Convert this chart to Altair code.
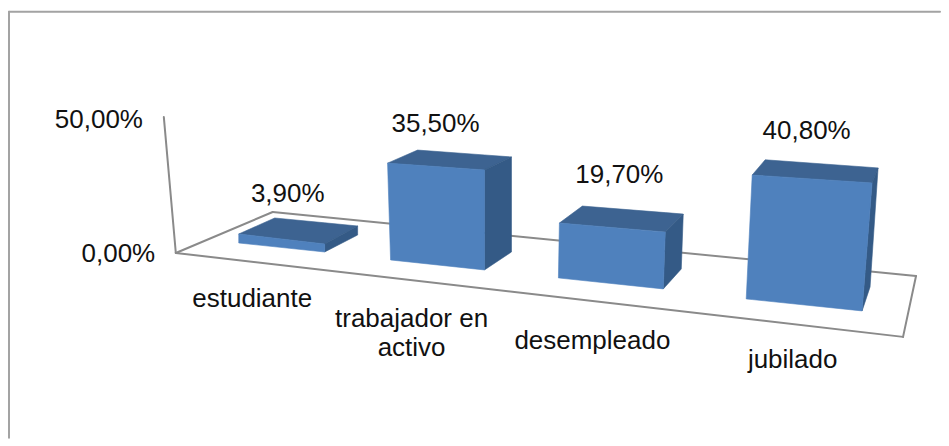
import altair as alt
import pandas as pd

# ---- chart values ----
categories = ["estudiante", "trabajador en\nactivo", "desempleado", "jubilado"]
values = [3.9, 35.5, 19.7, 40.8]
axis_ticks = ["0,00%", "50,00%"]

# ---- layout of the tilted 3D scene, in picture pixels ----
W, H, M = 933, 430, 8
FONT = "Liberation Sans"
FRONT, TOP, SIDE = "#4f81bd", "#3d6391", "#345a86"
GREY = "#8a8a8a"
# floor footprint of each bar: front-left, front-right, back-right, back-left
BASES = [
    [(239, 243), (325, 252), (358, 235), (275, 227)],
    [(391, 260), (485, 270), (512, 252), (420, 243)],
    [(559, 278), (664, 289), (682, 269), (582, 261)],
    [(747, 299), (863, 311), (871, 287), (760, 276)],
]
# how far each corner rises on screen for one percentage point
LIFTS = [
    [(0.00, -2.31), (0.00, -2.05), (0.00, -2.31), (0.00, -2.31)],
    [(-0.085, -2.73), (0.00, -2.82), (0.00, -2.68), (-0.056, -2.62)],
    [(0.05, -2.79), (0.10, -2.89), (0.10, -2.79), (0.05, -2.79)],
    [(0.147, -3.04), (0.245, -3.14), (0.196, -2.92), (0.147, -2.85)],
]
VALUE_POS = [(288, 202), (436, 132), (620, 183), (807.5, 139)]
CAT_POS = [(252.5, 307), (412, 327), (593, 349), (793.5, 368)]
TICK_POS = [(118.5, 262), (99, 128)]
# wall, floor and outer frame segments
FRAME = [(9, 11.5, 941, 11.5), (9, 11.5, 9, 438)]
SCENE = [
    (164, 117, 176, 253),
    (176, 253, 273, 212),
    (273, 212, 917, 276),
    (176, 253, 904, 337),
    (904, 337, 917, 276),
]

xs = alt.Scale(domain=[M, M + W], nice=False, zero=False)
ys = alt.Scale(domain=[M + H, M], nice=False, zero=False)
X = alt.X("x:Q", scale=xs, axis=None)
Y = alt.Y("y:Q", scale=ys, axis=None)


def quad_layer(pts, color):
    """Draw a convex quad as an area mark with x / y / y2 rows."""
    rows = []
    for x in sorted({p[0] for p in pts}):
        hits = []
        for i in range(4):
            (x0, y0), (x1, y1) = pts[i], pts[(i + 1) % 4]
            if x0 == x1:
                if x0 == x:
                    hits += [y0, y1]
            elif min(x0, x1) <= x <= max(x0, x1):
                hits.append(y0 + (y1 - y0) * (x - x0) / (x1 - x0))
        rows.append({"x": x, "y": min(hits), "y2": max(hits)})
    return alt.Chart(pd.DataFrame(rows)).mark_area(
        orient="vertical", color=color, stroke=color, strokeWidth=0.6
    ).encode(x=X, y=Y, y2="y2:Q")


faces = []
for i, v in enumerate(values):
    base, lift = BASES[i], LIFTS[i]
    top = [(b[0] + v * l[0], b[1] + v * l[1]) for b, l in zip(base, lift)]
    fl, fr, br, bl = base
    tfl, tfr, tbr, tbl = top
    faces.append(quad_layer([tfl, tfr, tbr, tbl], TOP))
    faces.append(quad_layer([tfr, tbr, br, fr], SIDE))
    faces.append(quad_layer([tfl, tfr, fr, fl], FRONT))


def seg_layer(segs, width, color):
    df = pd.DataFrame(segs, columns=["x", "y", "x2", "y2"])
    return alt.Chart(df).mark_rule(strokeWidth=width, color=color, strokeCap="round").encode(
        x=X, y=Y, x2="x2:Q", y2="y2:Q"
    )


def text_layer(labels, pos):
    df = pd.DataFrame({"t": labels, "x": [p[0] for p in pos], "y": [p[1] for p in pos]})
    return alt.Chart(df).mark_text(
        font=FONT, fontSize=26, color="#111111", align="center",
        baseline="alphabetic", lineBreak="\n", lineHeight=29,
    ).encode(x=X, y=Y, text="t:N")


frame = seg_layer(FRAME, 2, "#a3a3a3")
scene = seg_layer(SCENE, 2, GREY)
value_text = text_layer([f"{v:.2f}".replace(".", ",") + "%" for v in values], VALUE_POS)
cat_text = text_layer(categories, CAT_POS)
tick_text = text_layer(axis_ticks, TICK_POS)

chart = (
    alt.layer(frame, scene, *faces, value_text, cat_text, tick_text)
    .properties(width=W, height=H, padding=0, background="white")
    .configure_view(stroke=None)
)
chart.save("out.html", embed_options={"renderer": "svg", "actions": False})
